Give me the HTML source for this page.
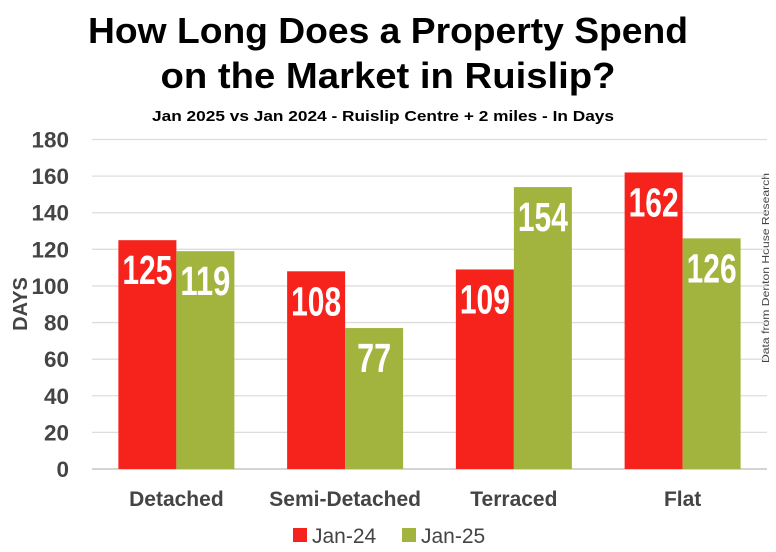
<!DOCTYPE html>
<html><head><meta charset="utf-8"><style>
body{margin:0;background:#fff}
svg{display:block}
text{font-family:"Liberation Sans Narrow","Liberation Sans",sans-serif}
</style></head><body>
<svg id="c" width="776" height="552" viewBox="0 0 776 552">
<text x="388" y="43" text-anchor="middle" font-size="36" font-weight="bold" fill="#000" textLength="600" lengthAdjust="spacingAndGlyphs">How Long Does a Property Spend</text>
<text x="388" y="88" text-anchor="middle" font-size="36" font-weight="bold" fill="#000" textLength="455" lengthAdjust="spacingAndGlyphs">on the Market in Ruislip?</text>
<text x="383" y="121" text-anchor="middle" font-size="15" font-weight="bold" fill="#000" textLength="462" lengthAdjust="spacingAndGlyphs">Jan 2025 vs Jan 2024 - Ruislip Centre + 2 miles - In Days</text>
<text transform="translate(27,304) rotate(-90)" text-anchor="middle" font-size="20" font-weight="bold" fill="#444">DAYS</text>
<text transform="translate(769,268) rotate(-90)" text-anchor="middle" font-size="10" fill="#444" textLength="190" lengthAdjust="spacingAndGlyphs">Data from Denton House Research</text>
<g id="grid"></g><g id="bars"></g><g id="labels"></g>
<g>
<rect x="293" y="528" width="14" height="14" fill="#f5231c"/>
<text x="312" y="543" font-size="21" fill="#444">Jan-24</text>
<rect x="402" y="528" width="14" height="14" fill="#a3b43e"/>
<text x="421" y="543" font-size="21" fill="#444">Jan-25</text>
</g>
</svg>
<script>
const categories=["Detached","Semi-Detached","Terraced","Flat"];
const jan24=[125,108,109,162];
const jan25=[119,77,154,126];
const ticks=[0,20,40,60,80,100,120,140,160,180];
const NS="http://www.w3.org/2000/svg";
const x0=92,x1=767,y0=469,yTop=139.5,maxV=180;
const y=v=>y0-(v/maxV)*(y0-yTop);
const band=(x1-x0)/categories.length;
const cx=i=>x0+band*(i+0.5);
const bw=58;
function mk(tag,attrs,parent){const e=document.createElementNS(NS,tag);for(const k in attrs)e.setAttribute(k,attrs[k]);parent.appendChild(e);return e;}
const grid=document.getElementById('grid'),bars=document.getElementById('bars'),labels=document.getElementById('labels');
ticks.forEach(t=>{
  const l=mk('line',{x1:x0,x2:x1,y1:y(t),y2:y(t),stroke:t===0?'#bbb':'#ddd','stroke-width':1.3},grid);
  
  
  const n=String(t).length;
  const tx=mk('text',{x:69,y:y(t)+8,'text-anchor':'end','font-size':22,'font-weight':'bold',fill:'#444',textLength:n*12.5,lengthAdjust:'spacingAndGlyphs'},grid);
  tx.textContent=t;
  
  
});
categories.forEach((c,i)=>{
  [[jan24,'#f5231c',-bw,'jan24'],[jan25,'#a3b43e',0,'jan25']].forEach(([arr,col,off,nm])=>{
    const v=arr[i];
    const r=mk('rect',{x:cx(i)+off,y:y(v),width:bw,height:y0-y(v),fill:col},bars);
    
    
    const t=mk('text',{x:cx(i)+off+bw/2,y:y(v)+44,'text-anchor':'middle','font-size':41,'font-weight':'bold',fill:'#fff',textLength:v>=100?50:34,lengthAdjust:'spacingAndGlyphs'},labels);
    t.textContent=v;
    
    
  });
  const t=mk('text',{x:cx(i),y:506,'text-anchor':'middle','font-size':21,'font-weight':'bold',fill:'#444'},labels);
  t.textContent=c;
  
  
});
</script>
</body></html>
